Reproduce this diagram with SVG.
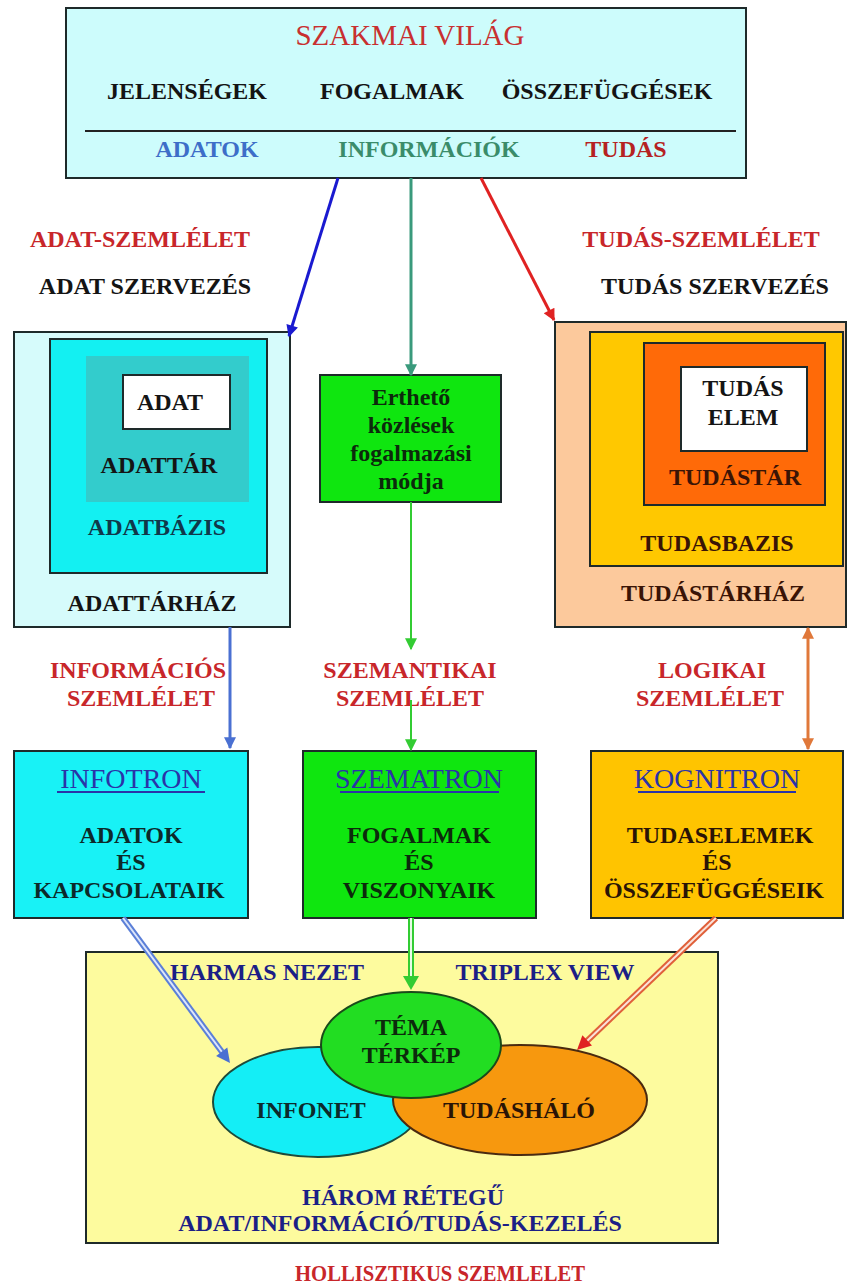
<svg xmlns="http://www.w3.org/2000/svg" width="848" height="1287" viewBox="0 0 848 1287">
  <style>
    text { font-family: "Liberation Serif", "Times New Roman", serif; text-anchor: middle; }
    .b { font-weight: bold; font-size: 24px; fill: #141414; }
    .red { fill: #c8262a; }
    .navy { fill: #1c1f86; }
    .ttl { font-weight: normal; font-size: 28px; fill: #2a34a8; }
    .box { stroke: #1e2a2a; stroke-width: 2; }
  </style>
  <defs>
    <marker id="hBlue" viewBox="0 0 10 10" refX="9" refY="5" markerWidth="14" markerHeight="12" markerUnits="userSpaceOnUse" orient="auto">
      <path d="M0,0 L10,5 L0,10 z" fill="#1a1ad0"/>
    </marker>
    <marker id="hTeal" viewBox="0 0 10 10" refX="9" refY="5" markerWidth="14" markerHeight="12" markerUnits="userSpaceOnUse" orient="auto">
      <path d="M0,0 L10,5 L0,10 z" fill="#3a9a7c"/>
    </marker>
    <marker id="hRed" viewBox="0 0 10 10" refX="9" refY="5" markerWidth="14" markerHeight="12" markerUnits="userSpaceOnUse" orient="auto">
      <path d="M0,0 L10,5 L0,10 z" fill="#e02222"/>
    </marker>
    <marker id="hSky" viewBox="0 0 10 10" refX="9" refY="5" markerWidth="14" markerHeight="12" markerUnits="userSpaceOnUse" orient="auto">
      <path d="M0,0 L10,5 L0,10 z" fill="#4a70d2"/>
    </marker>
    <marker id="hGreen" viewBox="0 0 10 10" refX="9" refY="5" markerWidth="14" markerHeight="12" markerUnits="userSpaceOnUse" orient="auto">
      <path d="M0,0 L10,5 L0,10 z" fill="#33cc33"/>
    </marker>
    <marker id="hOrange" viewBox="0 0 10 10" refX="9" refY="5" markerWidth="14" markerHeight="12" markerUnits="userSpaceOnUse" orient="auto-start-reverse">
      <path d="M0,0 L10,5 L0,10 z" fill="#e0783a"/>
    </marker>
  </defs>

  <rect width="848" height="1287" fill="#ffffff"/>

  <!-- top panel: the professional world -->
  <g id="szakmai-vilag">
    <rect class="box" x="66" y="8" width="680" height="170" fill="#cdfcfc"/>
    <text x="410" y="45" style="font-size:29px;fill:#c83030">SZAKMAI  VILÁG</text>
    <text class="b" x="187" y="99">JELENSÉGEK</text>
    <text class="b" x="392" y="99">FOGALMAK</text>
    <text class="b" x="607" y="99">ÖSSZEFÜGGÉSEK</text>
    <line x1="85" y1="131" x2="736" y2="131" stroke="#222" stroke-width="2"/>
    <text class="b" x="207" y="157" style="fill:#3d6ec8">ADATOK</text>
    <text class="b" x="429" y="157" style="fill:#3a8c6a">INFORMÁCIÓK</text>
    <text class="b" x="626" y="157" style="fill:#b52222">TUDÁS</text>
  </g>

  <!-- side captions -->
  <g id="adat-szemlelet">
    <text class="b red" x="140" y="247">ADAT-SZEMLÉLET</text>
    <text class="b" x="145" y="294">ADAT SZERVEZÉS</text>
  </g>
  <g id="tudas-szemlelet">
    <text class="b red" x="701" y="247">TUDÁS-SZEMLÉLET</text>
    <text class="b" x="715" y="294">TUDÁS SZERVEZÉS</text>
  </g>

  <!-- data warehouse nesting -->
  <g id="adattarhaz">
    <rect class="box" x="14" y="332" width="276" height="295" fill="#d6fbfb"/>
    <rect class="box" x="50" y="339" width="217" height="234" fill="#13f0f2"/>
    <rect x="86" y="356" width="163" height="146" fill="#33cccc"/>
    <rect class="box" x="123" y="375" width="107" height="54" fill="#ffffff"/>
    <text class="b" x="170" y="410">ADAT</text>
    <text class="b" x="159" y="473">ADATTÁR</text>
    <text class="b" x="157" y="535" style="fill:#10384a">ADATBÁZIS</text>
    <text class="b" x="152" y="611">ADATTÁRHÁZ</text>
  </g>

  <!-- expression box -->
  <g id="ertheto-kozlesek">
    <rect class="box" x="320" y="375" width="181" height="127" fill="#0fe60f"/>
    <text class="b" x="411" y="405" style="fill:#0c2a0c">Erthető</text>
    <text class="b" x="411" y="433" style="fill:#0c2a0c">közlések</text>
    <text class="b" x="411" y="461" style="fill:#0c2a0c">fogalmazási</text>
    <text class="b" x="411" y="489" style="fill:#0c2a0c">módja</text>
  </g>

  <!-- knowledge warehouse nesting -->
  <g id="tudastarhaz">
    <rect class="box" x="555" y="322" width="291" height="305" fill="#fcc99c"/>
    <rect class="box" x="590" y="332" width="253" height="234" fill="#ffc800"/>
    <rect class="box" x="644" y="343" width="181" height="162" fill="#ff6a08"/>
    <rect class="box" x="681" y="367" width="126" height="84" fill="#ffffff"/>
    <text class="b" x="743" y="396">TUDÁS</text>
    <text class="b" x="743" y="425">ELEM</text>
    <text class="b" x="735" y="485" style="fill:#3a1406">TUDÁSTÁR</text>
    <text class="b" x="717" y="551" style="fill:#3a1406">TUDASBAZIS</text>
    <text class="b" x="713" y="601" style="fill:#3a1406">TUDÁSTÁRHÁZ</text>
  </g>

  <!-- middle captions -->
  <g id="informacios-szemlelet">
    <text class="b red" x="138" y="678">INFORMÁCIÓS</text>
    <text class="b red" x="141" y="706">SZEMLÉLET</text>
  </g>
  <g id="szemantikai-szemlelet">
    <text class="b red" x="410" y="678">SZEMANTIKAI</text>
    <text class="b red" x="410" y="706">SZEMLÉLET</text>
  </g>
  <g id="logikai-szemlelet">
    <text class="b red" x="712" y="678">LOGIKAI</text>
    <text class="b red" x="710" y="706">SZEMLÉLET</text>
  </g>

  <!-- three views -->
  <g id="infotron">
    <rect class="box" x="14" y="751" width="234" height="167" fill="#18f2f6"/>
    <text class="ttl" x="131" y="788">INFOTRON</text>
    <line x1="57" y1="792" x2="205" y2="792" stroke="#2a34a8" stroke-width="2"/>
    <text class="b" x="131" y="843" style="fill:#0c2a2a">ADATOK</text>
    <text class="b" x="131" y="870" style="fill:#0c2a2a">ÉS</text>
    <text class="b" x="129" y="898" style="fill:#0c2a2a">KAPCSOLATAIK</text>
  </g>
  <g id="szematron">
    <rect class="box" x="303" y="751" width="233" height="167" fill="#0fe60f"/>
    <text class="ttl" x="419" y="788">SZEMATRON</text>
    <line x1="340" y1="792" x2="499" y2="792" stroke="#2a34a8" stroke-width="2"/>
    <text class="b" x="419" y="843" style="fill:#0c2a0c">FOGALMAK</text>
    <text class="b" x="419" y="870" style="fill:#0c2a0c">ÉS</text>
    <text class="b" x="419" y="898" style="fill:#0c2a0c">VISZONYAIK</text>
  </g>
  <g id="kognitron">
    <rect class="box" x="591" y="751" width="252" height="167" fill="#ffc400"/>
    <text class="ttl" x="717" y="788">KOGNITRON</text>
    <line x1="638" y1="792" x2="796" y2="792" stroke="#2a34a8" stroke-width="2"/>
    <text class="b" x="720" y="843" style="fill:#2a1406">TUDASELEMEK</text>
    <text class="b" x="717" y="870" style="fill:#2a1406">ÉS</text>
    <text class="b" x="714" y="898" style="fill:#2a1406">ÖSSZEFÜGGÉSEIK</text>
  </g>

  <!-- combined triplex view -->
  <g id="harmas-nezet">
    <rect class="box" x="86" y="952" width="632" height="291" fill="#fdfb9e"/>
    <text class="b navy" x="267" y="980">HARMAS NEZET</text>
    <text class="b navy" x="545" y="980">TRIPLEX VIEW</text>
    <text class="b navy" x="403" y="1205">HÁROM RÉTEGŰ</text>
    <text class="b navy" x="400" y="1231">ADAT/INFORMÁCIÓ/TUDÁS-KEZELÉS</text>
  </g>
  <g id="infonet">
    <ellipse cx="318" cy="1102" rx="105" ry="55" fill="#14eef6" stroke="#1e4a3a" stroke-width="2"/>
    <text class="b" x="311" y="1118" style="fill:#0c2a2a">INFONET</text>
  </g>
  <g id="tudashalo">
    <ellipse cx="520" cy="1100" rx="127" ry="55" fill="#f7980e" stroke="#4a2a10" stroke-width="2"/>
    <text class="b" x="519" y="1118" style="fill:#2a1406">TUDÁSHÁLÓ</text>
  </g>
  <g id="tema-terkep">
    <ellipse cx="411" cy="1045" rx="90" ry="53" fill="#22dd22" stroke="#1a4a1a" stroke-width="2"/>
    <text class="b" x="411" y="1035" style="fill:#0c2a0c">TÉMA</text>
    <text class="b" x="411" y="1063" style="fill:#0c2a0c">TÉRKÉP</text>
  </g>

  <g id="holisztikus">
    <text class="b red" x="440" y="1281" textLength="290" lengthAdjust="spacingAndGlyphs">HOLLISZTIKUS  SZEMLELET</text>
  </g>

  <!-- connectors -->
  <g id="connectors" fill="none">
    <line x1="338" y1="178" x2="289" y2="336" stroke="#1a1ad0" stroke-width="3" marker-end="url(#hBlue)"/>
    <line x1="411" y1="178" x2="411" y2="375" stroke="#3a9a7c" stroke-width="3" marker-end="url(#hTeal)"/>
    <line x1="481" y1="178" x2="554" y2="320" stroke="#e02222" stroke-width="3" marker-end="url(#hRed)"/>

    <line x1="230" y1="627" x2="230" y2="748" stroke="#4a70d2" stroke-width="3" marker-end="url(#hSky)"/>
    <line x1="411" y1="502" x2="411" y2="649" stroke="#33cc33" stroke-width="2" marker-end="url(#hGreen)"/>
    <line x1="411" y1="700" x2="411" y2="750" stroke="#33cc33" stroke-width="2" marker-end="url(#hGreen)"/>
    <line x1="808" y1="628" x2="808" y2="749" stroke="#e0783a" stroke-width="3" marker-start="url(#hOrange)" marker-end="url(#hOrange)"/>

    <!-- hollow double-line arrows into the triplex view -->
    <line x1="123" y1="918" x2="222" y2="1052" stroke="#5b7fd8" stroke-width="6"/>
    <line x1="123" y1="918" x2="222" y2="1052" stroke="#dde6fa" stroke-width="2"/>
    <polygon points="230,1063 216.1,1055.9 227.3,1047.5" fill="#4a70d2"/>

    <line x1="411" y1="918" x2="411" y2="977" stroke="#33cc33" stroke-width="6"/>
    <line x1="411" y1="918" x2="411" y2="977" stroke="#e6fbe6" stroke-width="2"/>
    <polygon points="411,990 403,976 419,976" fill="#33cc33"/>

    <line x1="716" y1="918" x2="587" y2="1041" stroke="#e0603a" stroke-width="6"/>
    <line x1="716" y1="918" x2="587" y2="1041" stroke="#fbe2da" stroke-width="2"/>
    <polygon points="577,1050 582.4,1035.3 592,1045.5" fill="#e02222"/>
  </g>
</svg>
